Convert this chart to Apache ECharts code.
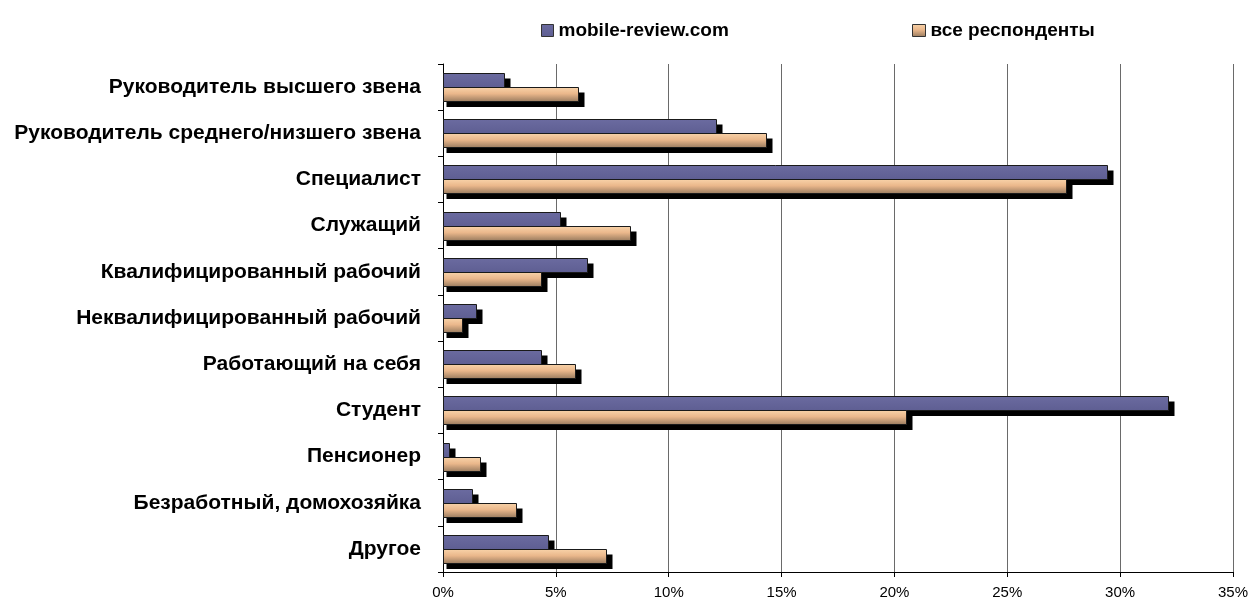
<!DOCTYPE html>
<html>
<head>
<meta charset="utf-8">
<script src="https://cdn.jsdelivr.net/npm/echarts@6/dist/echarts.min.js"></script>
<style>
  html, body { margin:0; padding:0; background:#fff; }
  #chart { width:1251px; height:604px; }
</style>
</head>
<body>
<div id="chart"></div>
<script>
var categories = ['Руководитель высшего звена', 'Руководитель среднего/низшего звена', 'Специалист',
  'Служащий', 'Квалифицированный рабочий', 'Неквалифицированный рабочий', 'Работающий на себя',
  'Студент', 'Пенсионер', 'Безработный, домохозяйка', 'Другое'];
var seriesNames = ['mobile-review.com', 'все респонденты'];
var mobileReview = [2.7, 12.1, 29.4, 5.2, 6.4, 1.45, 4.35, 32.1, 0.28, 1.27, 4.67];
var allResp = [5.97, 14.3, 27.6, 8.3, 4.35, 0.85, 5.85, 20.5, 1.65, 3.22, 7.24];

var font = '"Liberation Sans", Arial, sans-serif';

function blueFill(){
  return new echarts.graphic.LinearGradient(0, 0, 0, 1, [
    { offset: 0, color: '#6b6ba0' }, { offset: 1, color: '#5e5e92' }
  ]);
}
function orangeFill(){
  return new echarts.graphic.LinearGradient(0, 0, 0, 1, [
    { offset: 0, color: '#f9d4aa' }, { offset: 0.45, color: '#eab78b' }, { offset: 1, color: '#977a5e' }
  ]);
}

// bar + hard black drop shadow, positioned via the axes
function makeRender(slot, fillFn){
  return function(params, api){
    var cat = api.value(1);
    var p0 = api.coord([0, cat]);
    var p1 = api.coord([api.value(0), cat]);
    var h = 14;
    var x = Math.round(p0[0]) + 0.5;
    var w = Math.round(p1[0] - p0[0]);
    var y = Math.round(p0[1]) + (slot === 0 ? -h : 0) + 0.5;
    return {
      type: 'group',
      children: [
        { type: 'rect', shape: { x: x + 3, y: y + 5, width: w + 3, height: h + 0.5 }, style: { fill: '#000' } },
        { type: 'rect', shape: { x: x, y: y, width: w, height: h },
          style: { fill: fillFn(), stroke: '#1a1a1a', lineWidth: 1 } }
      ]
    };
  };
}

function toData(arr){
  var out = [];
  for (var i = 0; i < arr.length; i++) out.push([arr[i], i]);
  return out;
}

var legendText = { fontFamily: font, fontSize: 19, fontWeight: 'bold', color: '#000' };

var myChart = echarts.init(document.getElementById('chart'));
var option = {
  animation: false,
  textStyle: { fontFamily: font },
  legend: [
    {
      data: [{ name: seriesNames[0], itemStyle: { color: blueFill(), borderColor: '#333', borderWidth: 1 } }],
      left: 536, top: 16,
      icon: 'rect', itemWidth: 12, itemHeight: 12, itemGap: 5,
      textStyle: legendText
    },
    {
      data: [{ name: seriesNames[1], itemStyle: { color: orangeFill(), borderColor: '#333', borderWidth: 1 } }],
      left: 907, top: 16,
      icon: 'rect', itemWidth: 13, itemHeight: 12, itemGap: 5,
      textStyle: legendText
    }
  ],
  grid: { left: 443, right: 18, top: 64, bottom: 32, containLabel: false },
  xAxis: {
    type: 'value', min: 0, max: 35, interval: 5,
    axisLine: { show: true, lineStyle: { color: '#000', width: 1 } },
    axisTick: { show: true, length: 5, lineStyle: { color: '#000' } },
    axisLabel: { formatter: '{value}%', fontSize: 15, color: '#000', margin: 13, fontFamily: font },
    splitLine: { show: true, lineStyle: { color: '#6a6a6a', width: 1 } }
  },
  yAxis: {
    type: 'category', data: categories, inverse: true,
    axisLine: { show: true, lineStyle: { color: '#000', width: 1 } },
    axisTick: { show: true, length: 5, lineStyle: { color: '#000' } },
    axisLabel: { fontSize: 21, fontWeight: 'bold', color: '#000', margin: 22, fontFamily: font },
    splitLine: { show: false }
  },
  series: [
    {
      name: seriesNames[0], type: 'custom', data: toData(mobileReview),
      encode: { x: 0, y: 1 }, itemStyle: { color: '#6464a0' },
      renderItem: makeRender(0, blueFill)
    },
    {
      name: seriesNames[1], type: 'custom', data: toData(allResp),
      encode: { x: 0, y: 1 }, itemStyle: { color: '#eab78b' },
      renderItem: makeRender(1, orangeFill)
    }
  ]
};
myChart.setOption(option);
</script>
</body>
</html>
